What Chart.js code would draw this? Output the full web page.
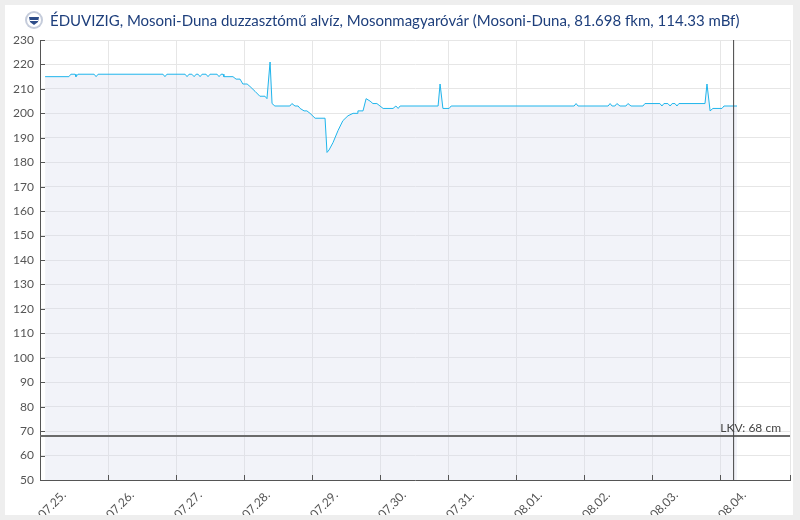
<!DOCTYPE html>
<html lang="hu">
<head>
<meta charset="UTF-8">
<title>Mosonmagyaróvár vízállás</title>
<script src="https://cdn.jsdelivr.net/npm/chart.js@4.4.1/dist/chart.umd.min.js"></script>
<style>
  html, body { margin: 0; padding: 0; background: #eeeeee; }
  canvas { display: block; }
</style>
</head>
<body>
<canvas id="chart" width="800" height="520"></canvas>
<script>
var title = 'ÉDUVIZIG, Mosoni-Duna duzzasztómű alvíz, Mosonmagyaróvár (Mosoni-Duna, 81.698 fkm, 114.33 mBf)';

// hours counted from 07.25. 00:00, water level in cm
var hours = [1.8, 10.2, 10.9, 12.4, 12.7, 13.4, 19.1, 19.8, 20.5, 43.4, 44.1, 44.8,
  51.2, 51.9, 52.6, 53.6, 54.4, 55.1, 55.8, 56.5, 57.2, 58.6, 59.3, 60.0,
  62.5, 63.2, 63.9, 64.6, 64.9, 68.1, 69.2, 70.6, 71.6, 73.1, 74.1, 75.9,
  77.6, 79.4, 80.1, 81.2, 81.9, 82.9, 88.2, 88.9, 90.0, 91.1, 91.8, 93.2,
  94.2, 95.3, 97.1, 100.6, 101.3, 102.0, 103.4, 105.2, 106.9, 108.7, 110.5, 111.9,
  112.2, 114.0, 115.1, 116.5, 117.5, 118.9, 120.0, 121.1, 124.6, 125.6, 126.4, 127.1,
  140.5, 141.2, 142.2, 144.4, 145.1, 188.5, 189.2, 189.9, 200.5, 201.2, 201.9, 202.9,
  203.6, 204.7, 206.8, 207.5, 208.6, 212.8, 213.5, 218.8, 219.5, 220.2, 221.6, 222.4,
  223.1, 224.1, 224.8, 225.5, 234.7, 235.4, 236.5, 237.5, 240.7, 241.4, 246.0];
var levels = [215, 215, 216, 216, 215, 216, 216, 215, 216, 216, 215, 216,
  216, 215, 216, 216, 215, 216, 216, 215, 216, 216, 215, 216,
  216, 215, 216, 216, 215, 215, 214, 214, 212, 212, 211, 209,
  207, 207, 206, 221, 204, 203, 203, 204, 203, 203, 202, 201,
  201, 200, 198, 198, 184, 185, 188, 193, 197, 199, 200, 200,
  201, 201, 206, 205, 204, 204, 203, 202, 202, 203, 202, 203,
  203, 212, 202, 202, 203, 203, 204, 203, 203, 204, 203, 203,
  204, 203, 203, 204, 203, 203, 204, 204, 203, 204, 204, 203,
  204, 204, 203, 204, 204, 212, 201, 202, 202, 203, 203];

var dayHours = [0, 24, 48, 72, 96, 120, 144, 168, 192, 216, 240];
var dayLabels = ['07.25.', '07.26.', '07.27.', '07.28.', '07.29.', '07.30.',
  '07.31.', '08.01.', '08.02.', '08.03.', '08.04.'];

var lkv = 68;
var lkvLabel = 'LKV: 68 cm';
var nowHour = 244.8;
var xMax = 264.7;

var frame = {
  id: 'frame',
  beforeDraw: function(chart) {
    var ctx = chart.ctx;
    ctx.save();
    ctx.fillStyle = '#eeeeee';
    ctx.fillRect(0, 0, 800, 520);
    ctx.fillStyle = '#ffffff';
    ctx.fillRect(5, 5, 788, 510);
    ctx.restore();
  },
  afterDraw: function(chart) {
    var ctx = chart.ctx;
    var a = chart.chartArea;
    var xs = chart.scales.x, ys = chart.scales.y;
    ctx.save();
    // right border
    ctx.strokeStyle = '#e6e6e6';
    ctx.lineWidth = 1;
    ctx.beginPath();
    ctx.moveTo(a.right + 0.5, a.top);
    ctx.lineTo(a.right + 0.5, a.bottom);
    ctx.stroke();
    // inward ticks
    ctx.strokeStyle = '#555555';
    ctx.beginPath();
    dayHours.concat([xMax]).forEach(function(h) {
      var px = Math.round(xs.getPixelForValue(h)) + 0.5;
      ctx.moveTo(px, a.bottom);
      ctx.lineTo(px, a.bottom - 5);
    });
    ys.ticks.forEach(function(t) {
      var py = Math.round(ys.getPixelForValue(t.value)) + 0.5;
      ctx.moveTo(a.left, py);
      ctx.lineTo(a.left + 5, py);
    });
    ctx.stroke();
    // LKV label
    ctx.fillStyle = '#444444';
    ctx.font = '12px Lato';
    ctx.textAlign = 'right';
    ctx.textBaseline = 'alphabetic';
    ctx.fillText(lkvLabel, a.right - 9, ys.getPixelForValue(lkv) - 4);
    // title icon
    ctx.fillStyle = '#c5ccdb';
    ctx.beginPath();
    ctx.arc(34, 20, 9, 0, Math.PI * 2);
    ctx.fill();
    ctx.fillStyle = '#ffffff';
    ctx.beginPath();
    ctx.arc(34, 20, 7, 0, Math.PI * 2);
    ctx.fill();
    ctx.fillStyle = '#2d4c88';
    ctx.beginPath();
    ctx.moveTo(29, 17);
    ctx.lineTo(39, 17);
    ctx.lineTo(38, 22);
    ctx.lineTo(34, 25);
    ctx.lineTo(30, 22);
    ctx.closePath();
    ctx.fill();
    ctx.fillStyle = '#ffffff';
    ctx.fillRect(30, 20, 8, 1);
    // title
    ctx.fillStyle = '#1e3f7c';
    ctx.font = '15px Lato';
    ctx.textAlign = 'left';
    ctx.fillText(title, 50, 26);
    // clip the rotated labels at the card edge
    ctx.fillStyle = '#eeeeee';
    ctx.fillRect(0, 515, 800, 5);
    ctx.restore();
  }
};

new Chart(document.getElementById('chart'), {
  type: 'line',
  data: {
    datasets: [{
      data: hours.map(function(h, i) { return { x: h, y: levels[i] }; }),
      borderColor: '#1fb5ec',
      borderWidth: 1,
      backgroundColor: 'rgba(214, 219, 235, 0.32)',
      fill: 'start',
      pointRadius: 0,
      tension: 0,
      order: 3
    }, {
      data: [{ x: 0, y: lkv }, { x: xMax, y: lkv }],
      borderColor: '#6b6b6b',
      borderWidth: 2,
      pointRadius: 0,
      fill: false,
      order: 1
    }, {
      data: [{ x: nowHour, y: 50 }, { x: nowHour, y: 230 }],
      borderColor: '#444444',
      borderWidth: 1,
      pointRadius: 0,
      fill: false,
      order: 0
    }]
  },
  plugins: [frame],
  options: {
    responsive: false,
    animation: false,
    devicePixelRatio: 1,
    layout: { padding: { top: 40, right: 10, left: 0, bottom: 0 } },
    plugins: { legend: { display: false }, tooltip: { enabled: false }, title: { display: false } },
    scales: {
      x: {
        type: 'linear',
        min: 0,
        max: xMax,
        afterBuildTicks: function(scale) {
          scale.ticks = dayHours.map(function(h) { return { value: h }; });
        },
        afterFit: function(scale) { scale.height = 40; },
        grid: { color: '#e6e6e6', drawTicks: false },
        border: { color: '#555555', width: 1 },
        ticks: {
          autoSkip: false,
          minRotation: 45,
          maxRotation: 45,
          labelOffset: 24,
          padding: 8,
          color: '#555555',
          font: { family: 'Lato', size: 12 },
          callback: function(v) {
            var i = dayHours.indexOf(v);
            return i < 0 ? '' : dayLabels[i];
          }
        }
      },
      y: {
        min: 50,
        max: 230,
        afterFit: function(scale) { scale.width = 40; },
        grid: { color: '#e6e6e6', drawTicks: false },
        border: { color: '#555555', width: 1 },
        ticks: {
          stepSize: 10,
          padding: 6,
          color: '#555555',
          font: { family: 'Lato', size: 12 }
        }
      }
    }
  }
});
</script>
</body>
</html>
